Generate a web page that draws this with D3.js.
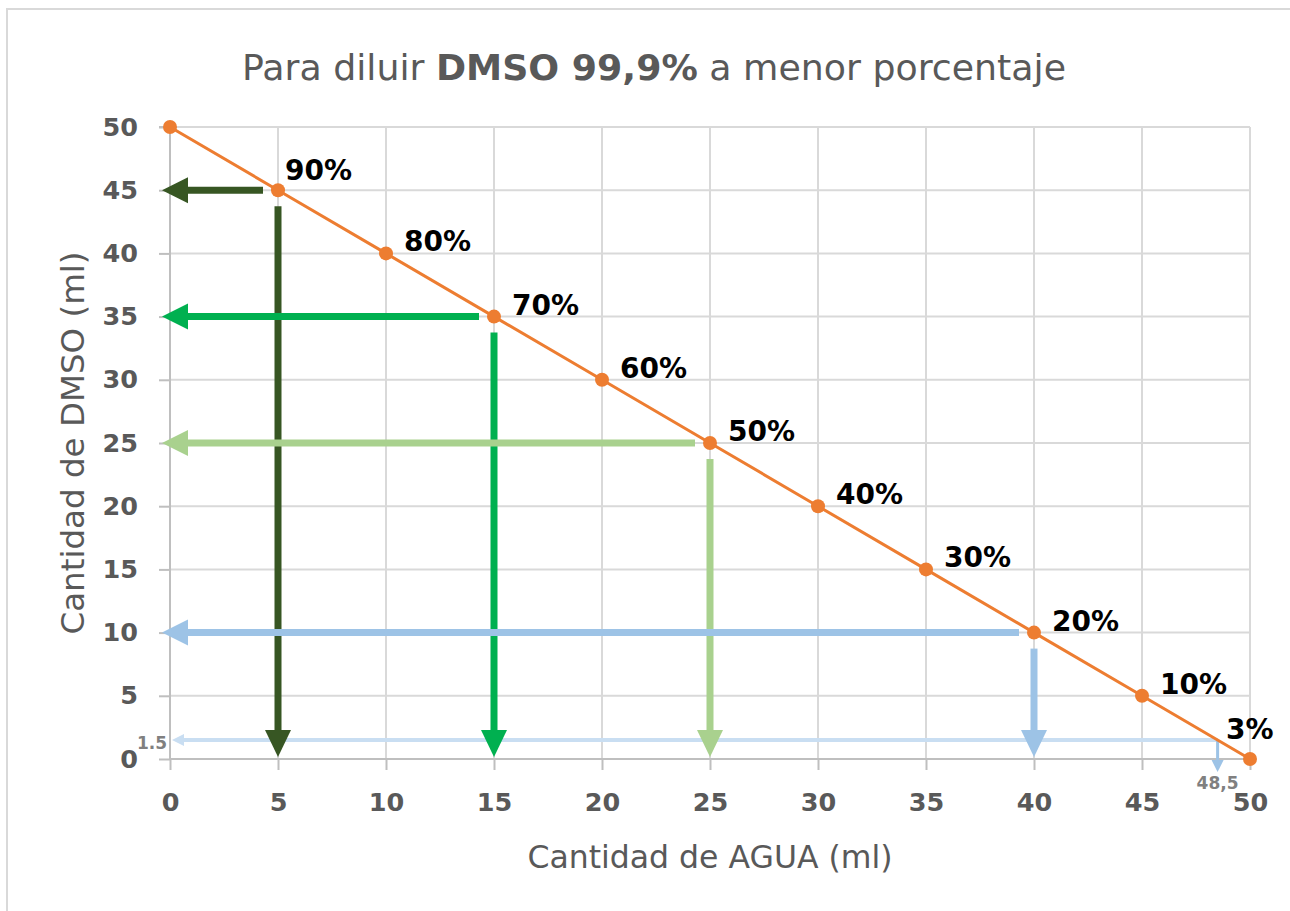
<!DOCTYPE html>
<html><head><meta charset="utf-8">
<script src="https://cdn.jsdelivr.net/npm/d3@7"></script>
<style>body{margin:0;background:#fff;} text{font-family:"DejaVu Sans",sans-serif;}</style>
</head><body>
<svg id="c" width="1290" height="911"></svg>
<script>
// ---- data ----
const waterMl = [0, 5, 10, 15, 20, 25, 30, 35, 40, 45, 50];
const dmsoMl  = [50, 45, 40, 35, 30, 25, 20, 15, 10, 5, 0];
const pctLabels = ["", "90%", "80%", "70%", "60%", "50%", "40%", "30%", "20%", "10%", "3%"];
const xTicks = [0, 5, 10, 15, 20, 25, 30, 35, 40, 45, 50];
const yTicks = [0, 5, 10, 15, 20, 25, 30, 35, 40, 45, 50];
const guideWater = [5, 15, 25, 40];
const guideDmso  = [45, 35, 25, 10];
const guideColors = ["#375623", "#00b050", "#a9d18e", "#9dc3e6"];
const refWater = 48.5, refDmso = 1.5;
const refWaterLabel = "48,5", refDmsoLabel = "1.5";

const svg = d3.select("#c");
const x = d3.scaleLinear().domain([0, 50]).range([170, 1250]);
const y = d3.scaleLinear().domain([0, 50]).range([759, 127]);

// outer frame
svg.append("rect").attr("x", 7).attr("y", 9).attr("width", 1400).attr("height", 1000)
  .attr("fill", "none").attr("stroke", "#d9d9d9").attr("stroke-width", 2);

// gridlines
const grid = svg.append("g");
grid.selectAll(".gx").data(xTicks.filter(d => d > 0)).join("line")
  .attr("x1", d => x(d)).attr("x2", d => x(d)).attr("y1", y(50)).attr("y2", y(0))
  .attr("stroke", "#d9d9d9").attr("stroke-width", 2);
grid.selectAll(".gy").data(yTicks.filter(d => d > 0)).join("line")
  .attr("x1", x(0)).attr("x2", x(50)).attr("y1", d => y(d)).attr("y2", d => y(d))
  .attr("stroke", "#d9d9d9").attr("stroke-width", 2);

// axes
const xAxis = svg.append("g").attr("transform", `translate(0,${y(0)})`)
  .call(d3.axisBottom(x).tickValues(xTicks).tickSize(11).tickPadding(23).tickFormat(d3.format("d")));
const yAxis = svg.append("g").attr("transform", `translate(${x(0)},0)`)
  .call(d3.axisLeft(y).tickValues(yTicks).tickSize(11).tickPadding(21).tickFormat(d3.format("d")));
[xAxis, yAxis].forEach(a => {
  a.select(".domain").attr("stroke", "#bfbfbf").attr("stroke-width", 2);
  a.selectAll(".tick line").attr("stroke", "#bfbfbf").attr("stroke-width", 2);
  a.selectAll(".tick text").attr("fill", "#595959").attr("font-size", 25.5).attr("font-weight", "bold")
   .style("font-family", '"DejaVu Sans",sans-serif');
});
yAxis.select(".domain").attr("d", `M-11,${y(50)}H0V${y(0)}`);
xAxis.select(".domain").attr("d", `M0,0H${x(50)-x(0)}`).attr("transform", `translate(${x(0)},0)`);

// arrow helper
function arrow(g, x1, y1, x2, y2, color, w, hl, hw) {
  const dx = x2 - x1, dy = y2 - y1, L = Math.hypot(dx, dy), ux = dx / L, uy = dy / L;
  const bx = x2 - ux * hl, by = y2 - uy * hl;
  g.append("line").attr("x1", x1).attr("y1", y1).attr("x2", bx).attr("y2", by)
    .attr("stroke", color).attr("stroke-width", w);
  g.append("path").attr("d",
    `M${x2},${y2}L${bx - uy * hw / 2},${by + ux * hw / 2}L${bx + uy * hw / 2},${by - ux * hw / 2}Z`)
    .attr("fill", color);
}
const ag = svg.append("g");
// reference 1.5 / 48.5 guides (thin)
arrow(ag, x(refWater), y(refDmso), x(0) + 2, y(refDmso), "#c9def2", 4, 12, 12);
arrow(ag, x(refWater), y(refDmso), x(refWater), y(refDmso) + 32, "#9dc3e6", 3, 12, 12);
guideWater.forEach((w, i) => {
  const c = guideColors[i];
  arrow(ag, x(w) - 15, y(guideDmso[i]), x(0) - 8, y(guideDmso[i]), c, 7, 26, 26);
  arrow(ag, x(w), y(guideDmso[i]) + 16, x(w), y(0) - 2, c, 7, 27, 26);
});

// series line
const pts = waterMl.map((w, i) => [w, dmsoMl[i]]);
svg.append("path").datum(pts)
  .attr("d", d3.line().x(d => x(d[0])).y(d => y(d[1])))
  .attr("fill", "none").attr("stroke", "#ed7d31").attr("stroke-width", 3);
svg.selectAll(".pt").data(pts).join("circle")
  .attr("cx", d => x(d[0])).attr("cy", d => y(d[1])).attr("r", 7).attr("fill", "#ed7d31");

// data labels
const last = pts.length - 1;
svg.selectAll(".lbl").data(pts).join("text")
  .attr("x", (d, i) => x(d[0]) + (i === 1 ? 7 : i === last ? -24 : 18))
  .attr("y", (d, i) => y(d[1]) + (i === 1 ? -10 : i === last ? -20 : -2))
  .attr("font-size", 28).attr("font-weight", "bold").attr("fill", "#000")
  .text((d, i) => pctLabels[i]);

// reference labels
svg.append("text").attr("x", x(0) - 3).attr("y", y(refDmso) + 9).attr("text-anchor", "end")
  .attr("font-size", 17).attr("font-weight", "bold").attr("fill", "#808080").text(refDmsoLabel);
svg.append("text").attr("x", x(refWater)).attr("y", y(0) + 30).attr("text-anchor", "middle")
  .attr("font-size", 17).attr("font-weight", "bold").attr("fill", "#808080").text(refWaterLabel);

// title
const t = svg.append("text").attr("x", 654).attr("y", 80).attr("text-anchor", "middle")
  .attr("font-size", 36.3).attr("fill", "#595959");
t.append("tspan").text("Para diluir ");
t.append("tspan").attr("font-weight", "bold").text("DMSO 99,9%");
t.append("tspan").text(" a menor porcentaje");

// axis titles
svg.append("text").attr("x", 710).attr("y", 868).attr("text-anchor", "middle")
  .attr("font-size", 31.5).attr("fill", "#595959").text("Cantidad de AGUA (ml)");
svg.append("text").attr("transform", `translate(84,443) rotate(-90)`).attr("text-anchor", "middle")
  .attr("font-size", 32.5).attr("fill", "#595959").text("Cantidad de DMSO (ml)");
</script>
</body></html>
